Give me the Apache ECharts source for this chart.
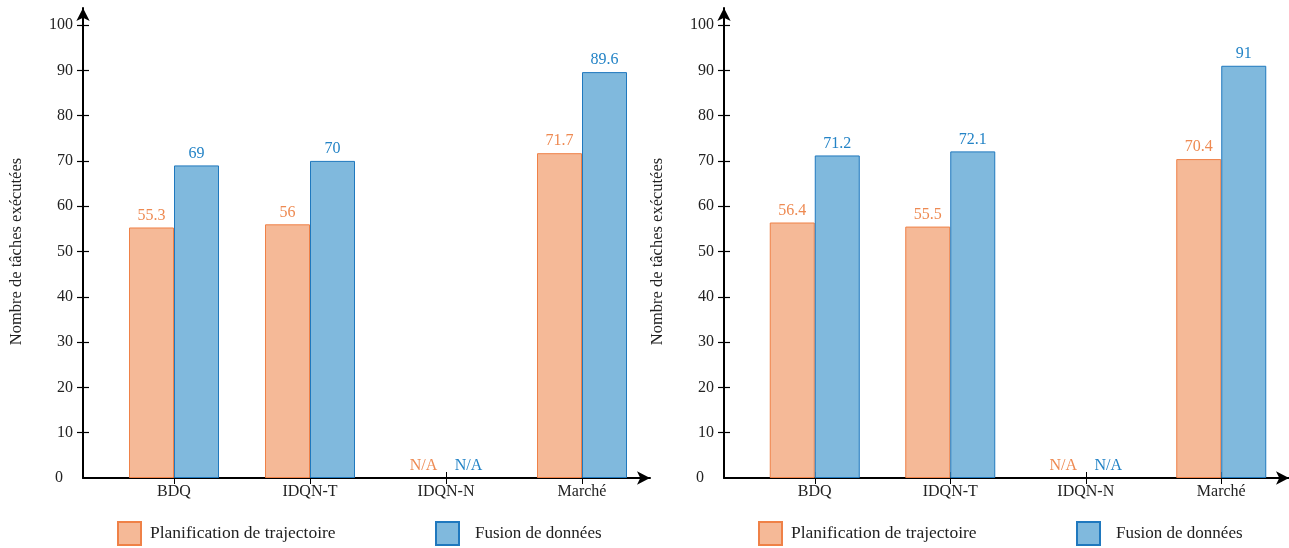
<!DOCTYPE html>
<html><head><meta charset="utf-8">
<script src="https://cdn.jsdelivr.net/npm/echarts@6/dist/echarts.min.js"></script>
<style>html,body{margin:0;padding:0;background:#fff}#c{width:1289px;height:548px}</style>
</head><body><div id="c"></div>
<script>
const categories = ['BDQ', 'IDQN-T', 'IDQN-N', 'Marché'];
const yTicks = [0, 10, 20, 30, 40, 50, 60, 70, 80, 90, 100];
const seriesNames = ['Planification de trajectoire', 'Fusion de données'];
const leftPlanif = [55.3, 56, null, 71.7];
const leftFusion = [69, 70, null, 89.6];
const rightPlanif = [56.4, 55.5, null, 70.4];
const rightFusion = [71.2, 72.1, null, 91];
const yAxisTitle = 'Nombre de tâches exécutées';

const FONT = '"Liberation Serif", "DejaVu Serif", serif';
const TXT = '#222';
const ORANGE_FILL = '#F5B997', ORANGE_EDGE = '#EF8147', ORANGE_TXT = '#EE8A52';
const BLUE_FILL = '#80B9DD', BLUE_EDGE = '#1F78BE', BLUE_TXT = '#2383C6';

const chart = echarts.init(document.getElementById('c'), null, {renderer: 'canvas'});
const grids = [], xAxes = [], yAxes = [], series = [], legends = [];
const tickVals = yTicks.filter(v => v !== 0);

function panel(dx, planif, fusion) {
  const axisX = 83 + dx;
  // frame grid (arrows)
  const gF = grids.length;
  grids.push({left: axisX, top: 8, width: 567, bottom: 70, containLabel: false});
  xAxes.push({gridIndex: gF, type: 'value', min: 0, max: 1, axisLine: {show: true, symbol: ['none', 'arrow'], symbolSize: [10, 13], lineStyle: {color: '#000', width: 2}}, axisTick: {show: false}, axisLabel: {show: false}, splitLine: {show: false}});
  yAxes.push({gridIndex: gF, type: 'value', position: 'left', min: 0, max: 1, axisLine: {show: true, symbol: ['none', 'arrow'], symbolSize: [10, 13], lineStyle: {color: '#000', width: 2}}, axisTick: {show: false}, axisLabel: {show: false}, splitLine: {show: false}});
  // bars grid
  const gB = grids.length;
  grids.push({left: 106 + dx, top: 25, width: 544, bottom: 70, containLabel: false});
  const xi = xAxes.length;
  xAxes.push({gridIndex: gB, type: 'category', data: categories, position: 'bottom', axisLine: {show: false},
    axisTick: {show: true, alignWithLabel: true, length: 6, inside: false, lineStyle: {color: '#000', width: 1}},
    axisLabel: {color: TXT, fontFamily: FONT, fontSize: 16, margin: 6}, splitLine: {show: false}});
  xAxes.push({gridIndex: gB, type: 'category', data: categories, position: 'bottom', axisLine: {show: false},
    axisTick: {show: true, alignWithLabel: true, length: 6, inside: true, lineStyle: {color: '#000', width: 1}},
    axisLabel: {show: false}, splitLine: {show: false}});
  const yi = yAxes.length;
  yAxes.push({gridIndex: gB, type: 'value', position: 'left', min: yTicks[0], max: yTicks[yTicks.length - 1], interval: 10, offset: 23,
    axisLine: {show: false}, axisTick: {show: true, length: 6, inside: false, customValues: tickVals, lineStyle: {color: '#000', width: 1.2}},
    axisLabel: {color: TXT, fontFamily: FONT, fontSize: 16, margin: 10,
      formatter: v => v === 0 ? '{z|0}' : String(v),
      rich: {z: {color: TXT, fontFamily: FONT, fontSize: 16, padding: [0, 10, 0, 0]}}},
    splitLine: {show: false},
    name: yAxisTitle, nameLocation: 'middle', nameGap: 58, nameTextStyle: {color: TXT, fontFamily: FONT, fontSize: 16.5}});
  yAxes.push({gridIndex: gB, type: 'value', position: 'left', min: yTicks[0], max: yTicks[yTicks.length - 1], interval: 10, offset: 23,
    axisLine: {show: false}, axisTick: {show: true, length: 6, inside: true, customValues: tickVals, lineStyle: {color: '#000', width: 1.2}},
    axisLabel: {show: false}, splitLine: {show: false}});

  const mk = (vals, txt) => vals.map(v => v === null ? {
      value: 0, itemStyle: {color: 'transparent', borderColor: 'transparent', borderWidth: 0},
      label: {show: true, formatter: 'N/A', color: txt}
    } : v);
  [[planif, ORANGE_FILL, ORANGE_EDGE, ORANGE_TXT, 0], [fusion, BLUE_FILL, BLUE_EDGE, BLUE_TXT, 1]].forEach(([vals, fill, edge, txt, k]) => {
    series.push({type: 'bar', name: seriesNames[k], xAxisIndex: xi, yAxisIndex: yi, barWidth: 45, barGap: '0%',
      data: mk(vals, txt),
      itemStyle: {color: fill, borderColor: edge, borderWidth: 1},
      label: {show: true, position: 'top', distance: 4, color: txt, fontFamily: FONT, fontSize: 16},
      emphasis: {disabled: true}, animation: false});
  });
  legends.push({data: [seriesNames[0]], left: 117 + dx, top: 521, padding: 0, itemWidth: 23, itemHeight: 23, icon: 'rect',
    textStyle: {color: TXT, fontFamily: FONT, fontSize: 17.5, padding: [0, 0, 0, 4]}});
  legends.push({data: [seriesNames[1]], left: 435 + dx, top: 521, padding: 0, itemWidth: 23, itemHeight: 23, icon: 'rect',
    textStyle: {color: TXT, fontFamily: FONT, fontSize: 17, padding: [0, 0, 0, 11]}});
}
panel(0, leftPlanif, leftFusion);
panel(641, rightPlanif, rightFusion);

chart.setOption({animation: false, grid: grids, xAxis: xAxes, yAxis: yAxes, series: series, legend: legends});
</script></body></html>
